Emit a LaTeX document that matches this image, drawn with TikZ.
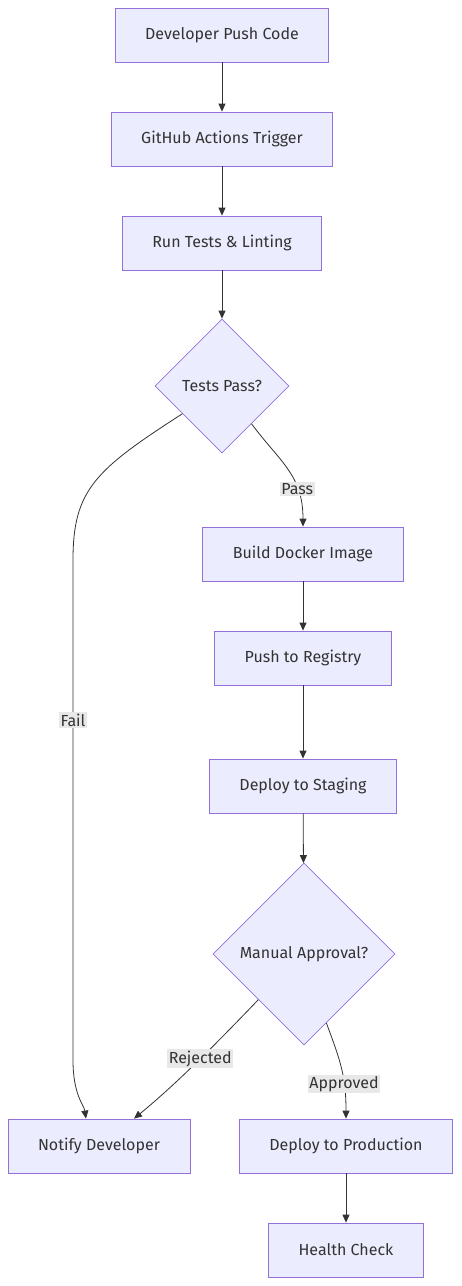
\documentclass[tikz,border=0pt]{standalone}
\usepackage{fontspec}
\setmainfont{Fira Sans}
\usepackage{tikz}
\usetikzlibrary{arrows.meta,shapes.geometric}
\definecolor{boxfill}{HTML}{ECECFF}
\definecolor{boxline}{HTML}{9370DB}
\definecolor{edgeline}{HTML}{333333}
\definecolor{lblfill}{HTML}{E8E8E8}

\begin{document}
\begin{tikzpicture}[x=1pt, y=-1pt,
		step box/.style={draw=boxline, fill=boxfill, line width=0.8pt, minimum height=54pt, inner xsep=30pt, text=edgeline, font=\fontsize{16}{19}\selectfont},
		choice/.style={diamond, draw=boxline, fill=boxfill, line width=0.8pt, inner sep=0pt, aspect=1, text=edgeline, font=\fontsize{16}{19}\selectfont},
		flow/.style={draw=edgeline, line width=0.8pt, -{Triangle[length=8pt, width=7pt]}},
		lbl/.style={fill=lblfill, inner sep=1.5pt, text=edgeline, font=\fontsize{16}{19}\selectfont}]
		%%%%% START %%%%%
		
		\useasboundingbox (0, 0) rectangle (461, 1286);
		
		\node[step box] (push) at (222, 35) {Developer Push Code};
		\node[step box] (trigger) at (222, 139) {GitHub Actions Trigger};
		\node[step box] (tests) at (222, 243) {Run Tests \& Linting};
		\node[choice, minimum width=134pt, minimum height=134pt] (pass) at (222, 386) {Tests Pass?};
		\node[step box] (build) at (303, 554) {Build Docker Image};
		\node[step box] (registry) at (303, 658) {Push to Registry};
		\node[step box] (staging) at (303, 786) {Deploy to Staging};
		\node[choice, minimum width=182pt, minimum height=182pt] (approval) at (304, 954) {Manual Approval?};
		\node[step box] (notify) at (99, 1146) {Notify Developer};
		\node[step box] (prod) at (346, 1146) {Deploy to Production};
		\node[step box] (health) at (346, 1250) {Health Check};
		
		\draw[flow] (push) -- (trigger);
		\draw[flow] (trigger) -- (tests);
		\draw[flow] (tests) -- (pass);
		
		\draw[flow] (pass.215) .. controls (95, 470) and (73, 490) .. (73, 560)
			-- node[lbl, pos=0.32] {Fail} (73, 1060)
			.. controls (73, 1095) and (84, 1105) .. (notify.north west -| 86, 0);
		\draw[flow] (pass.-52) .. controls (280, 462) and (303, 475) .. node[lbl, pos=0.7] {Pass} (build.north);
		
		\draw[flow] (build) -- (registry);
		\draw[flow] (registry) -- (staging);
		\draw[flow] (staging) -- (approval);
		
		\draw[flow] (approval.south west) .. controls (215, 1045) and (175, 1085) .. node[lbl, pos=0.46] {Rejected} (notify.north east -| 134, 0);
		\draw[flow] (approval.-72) .. controls (340, 1060) and (346, 1075) .. node[lbl, pos=0.68] {Approved} (prod.north);
		
		\draw[flow] (prod) -- (health);
		
		%%%%% END %%%%%
	\end{tikzpicture}
\end{document}
